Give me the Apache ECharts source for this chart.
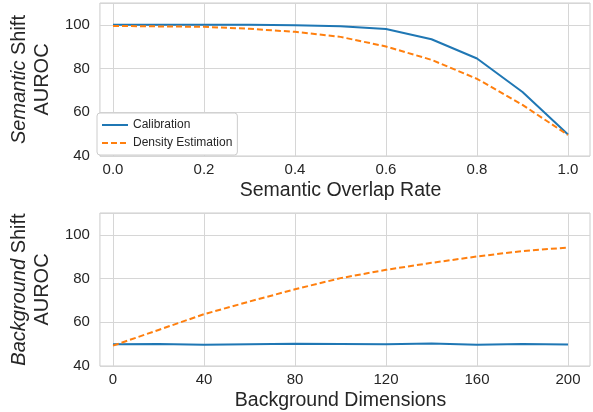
<!DOCTYPE html>
<html><head><meta charset="utf-8">
<script src="https://cdn.jsdelivr.net/npm/echarts@6/dist/echarts.min.js"></script>
<style>html,body{margin:0;padding:0;background:#fff}#c{width:593px;height:412px}</style>
</head><body><div id="c"></div>
<script>
const overlapRates = [0.0,0.1,0.2,0.3,0.4,0.5,0.6,0.7,0.8,0.9,1.0];
const semCalibration = [100,100,100,100,99.8,99.4,98.1,93.4,84.6,69.3,49.8];
const semDensity = [99.5,99.3,99.1,98.2,96.8,94.5,90.1,84.0,75.3,63.4,49.6];
const bgDims = [0,20,40,60,80,100,120,140,160,180,200];
const bgCalibration = [50.0,50.1,49.7,50.0,50.2,50.1,49.9,50.3,49.7,50.1,49.8];
const bgDensity = [49.3,56.5,63.7,69.5,75.1,80.2,84.0,87.2,90.1,92.6,94.2];
const yTicks = [40,60,80,100];

const FONT = 'Liberation Sans, Arial, sans-serif';
const BLUE = '#1f77b4', ORANGE = '#ff7f0e';
const GRIDC = '#d6d6d6';
const TXT = '#262626';
const pair = (xs, ys) => xs.map((x, i) => [x, ys[i]]);

const panels = [
  {top: 3, xName: 'Semantic Overlap Rate', yLab: 'Semantic', xMin: 0, xMax: 1, pad: 0.05, step: 0.2,
   fmt: v => v.toFixed(1), cal: pair(overlapRates, semCalibration), den: pair(overlapRates, semDensity)},
  {top: 213, xName: 'Background Dimensions', yLab: 'Background', xMin: 0, xMax: 200, pad: 10, step: 40,
   fmt: v => String(v), cal: pair(bgDims, bgCalibration), den: pair(bgDims, bgDensity)}
];

const grid = [], xAxis = [], yAxis = [], series = [];
panels.forEach((p, k) => {
  const outer = grid.length;
  grid.push({left: 91, right: 3, top: p.top, height: 153, show: true, borderColor: '#cccccc', borderWidth: 1, backgroundColor: '#fff'});
  grid.push({left: 113, right: 25, top: p.top, height: 153});
  const inner = outer + 1;
  xAxis.push({type: 'value', gridIndex: outer, min: p.xMin - p.pad, max: p.xMax + p.pad,
    axisLine: {show: false}, axisTick: {show: false}, axisLabel: {show: false}, splitLine: {show: false}});
  yAxis.push({type: 'value', gridIndex: outer, min: yTicks[0], max: 110, interval: 20,
    axisLine: {show: false}, axisTick: {show: false},
    axisLabel: {color: TXT, fontSize: 15, fontFamily: FONT, margin: 10, showMaxLabel: false},
    splitLine: {lineStyle: {color: GRIDC, width: 1}},
    name: '{i|' + p.yLab + '} Shift\nAUROC', nameLocation: 'middle', nameRotate: 90, nameGap: 30,
    nameTextStyle: {color: TXT, fontSize: 20, fontFamily: FONT, lineHeight: 23, align: 'center',
      rich: {i: {fontStyle: 'italic', fontSize: 20, fontFamily: FONT, color: TXT}}}});
  xAxis.push({type: 'value', gridIndex: inner, min: p.xMin, max: p.xMax, interval: p.step,
    axisLine: {show: false}, axisTick: {show: false},
    axisLabel: {color: TXT, fontSize: 15, fontFamily: FONT, margin: 6, formatter: p.fmt},
    splitLine: {lineStyle: {color: GRIDC, width: 1}},
    name: p.xName, nameLocation: 'middle', nameGap: 25,
    nameTextStyle: {color: TXT, fontSize: 19.5, fontFamily: FONT}});
  yAxis.push({type: 'value', gridIndex: inner, min: yTicks[0], max: 110, show: false, splitLine: {show: false}});
  const ai = xAxis.length - 1;
  series.push({name: 'Calibration', type: 'line', xAxisIndex: ai, yAxisIndex: ai, data: p.cal,
    symbol: 'none', clip: false, lineStyle: {color: BLUE, width: 2}, itemStyle: {color: BLUE}, z: 3});
  series.push({name: 'Density Estimation', type: 'line', xAxisIndex: ai, yAxisIndex: ai, data: p.den,
    symbol: 'none', clip: false, lineStyle: {color: ORANGE, width: 2, type: [6, 3]}, itemStyle: {color: ORANGE}, z: 3});
});

const chart = echarts.init(document.getElementById('c'), null, {renderer: 'canvas'});
chart.setOption({
  animation: false,
  backgroundColor: '#fff',
  grid, xAxis, yAxis, series,
  legend: {data: [
      {name: 'Calibration', icon: 'path://M0,0H26V2H0Z'},
      {name: 'Density Estimation', icon: 'path://M0,0H6V2H0Z M9,0H15V2H9Z M18,0H24V2H18Z M26,0H26.01V2H26Z'}],
    orient: 'vertical', left: 97, top: 113,
    backgroundColor: '#fff', borderColor: '#cccccc', borderWidth: 1, borderRadius: 3,
    padding: [6, 5, 6, 5], itemGap: 6, itemWidth: 26, itemHeight: 2,
    textStyle: {color: TXT, fontSize: 12, fontFamily: FONT}}
});
</script></body></html>
